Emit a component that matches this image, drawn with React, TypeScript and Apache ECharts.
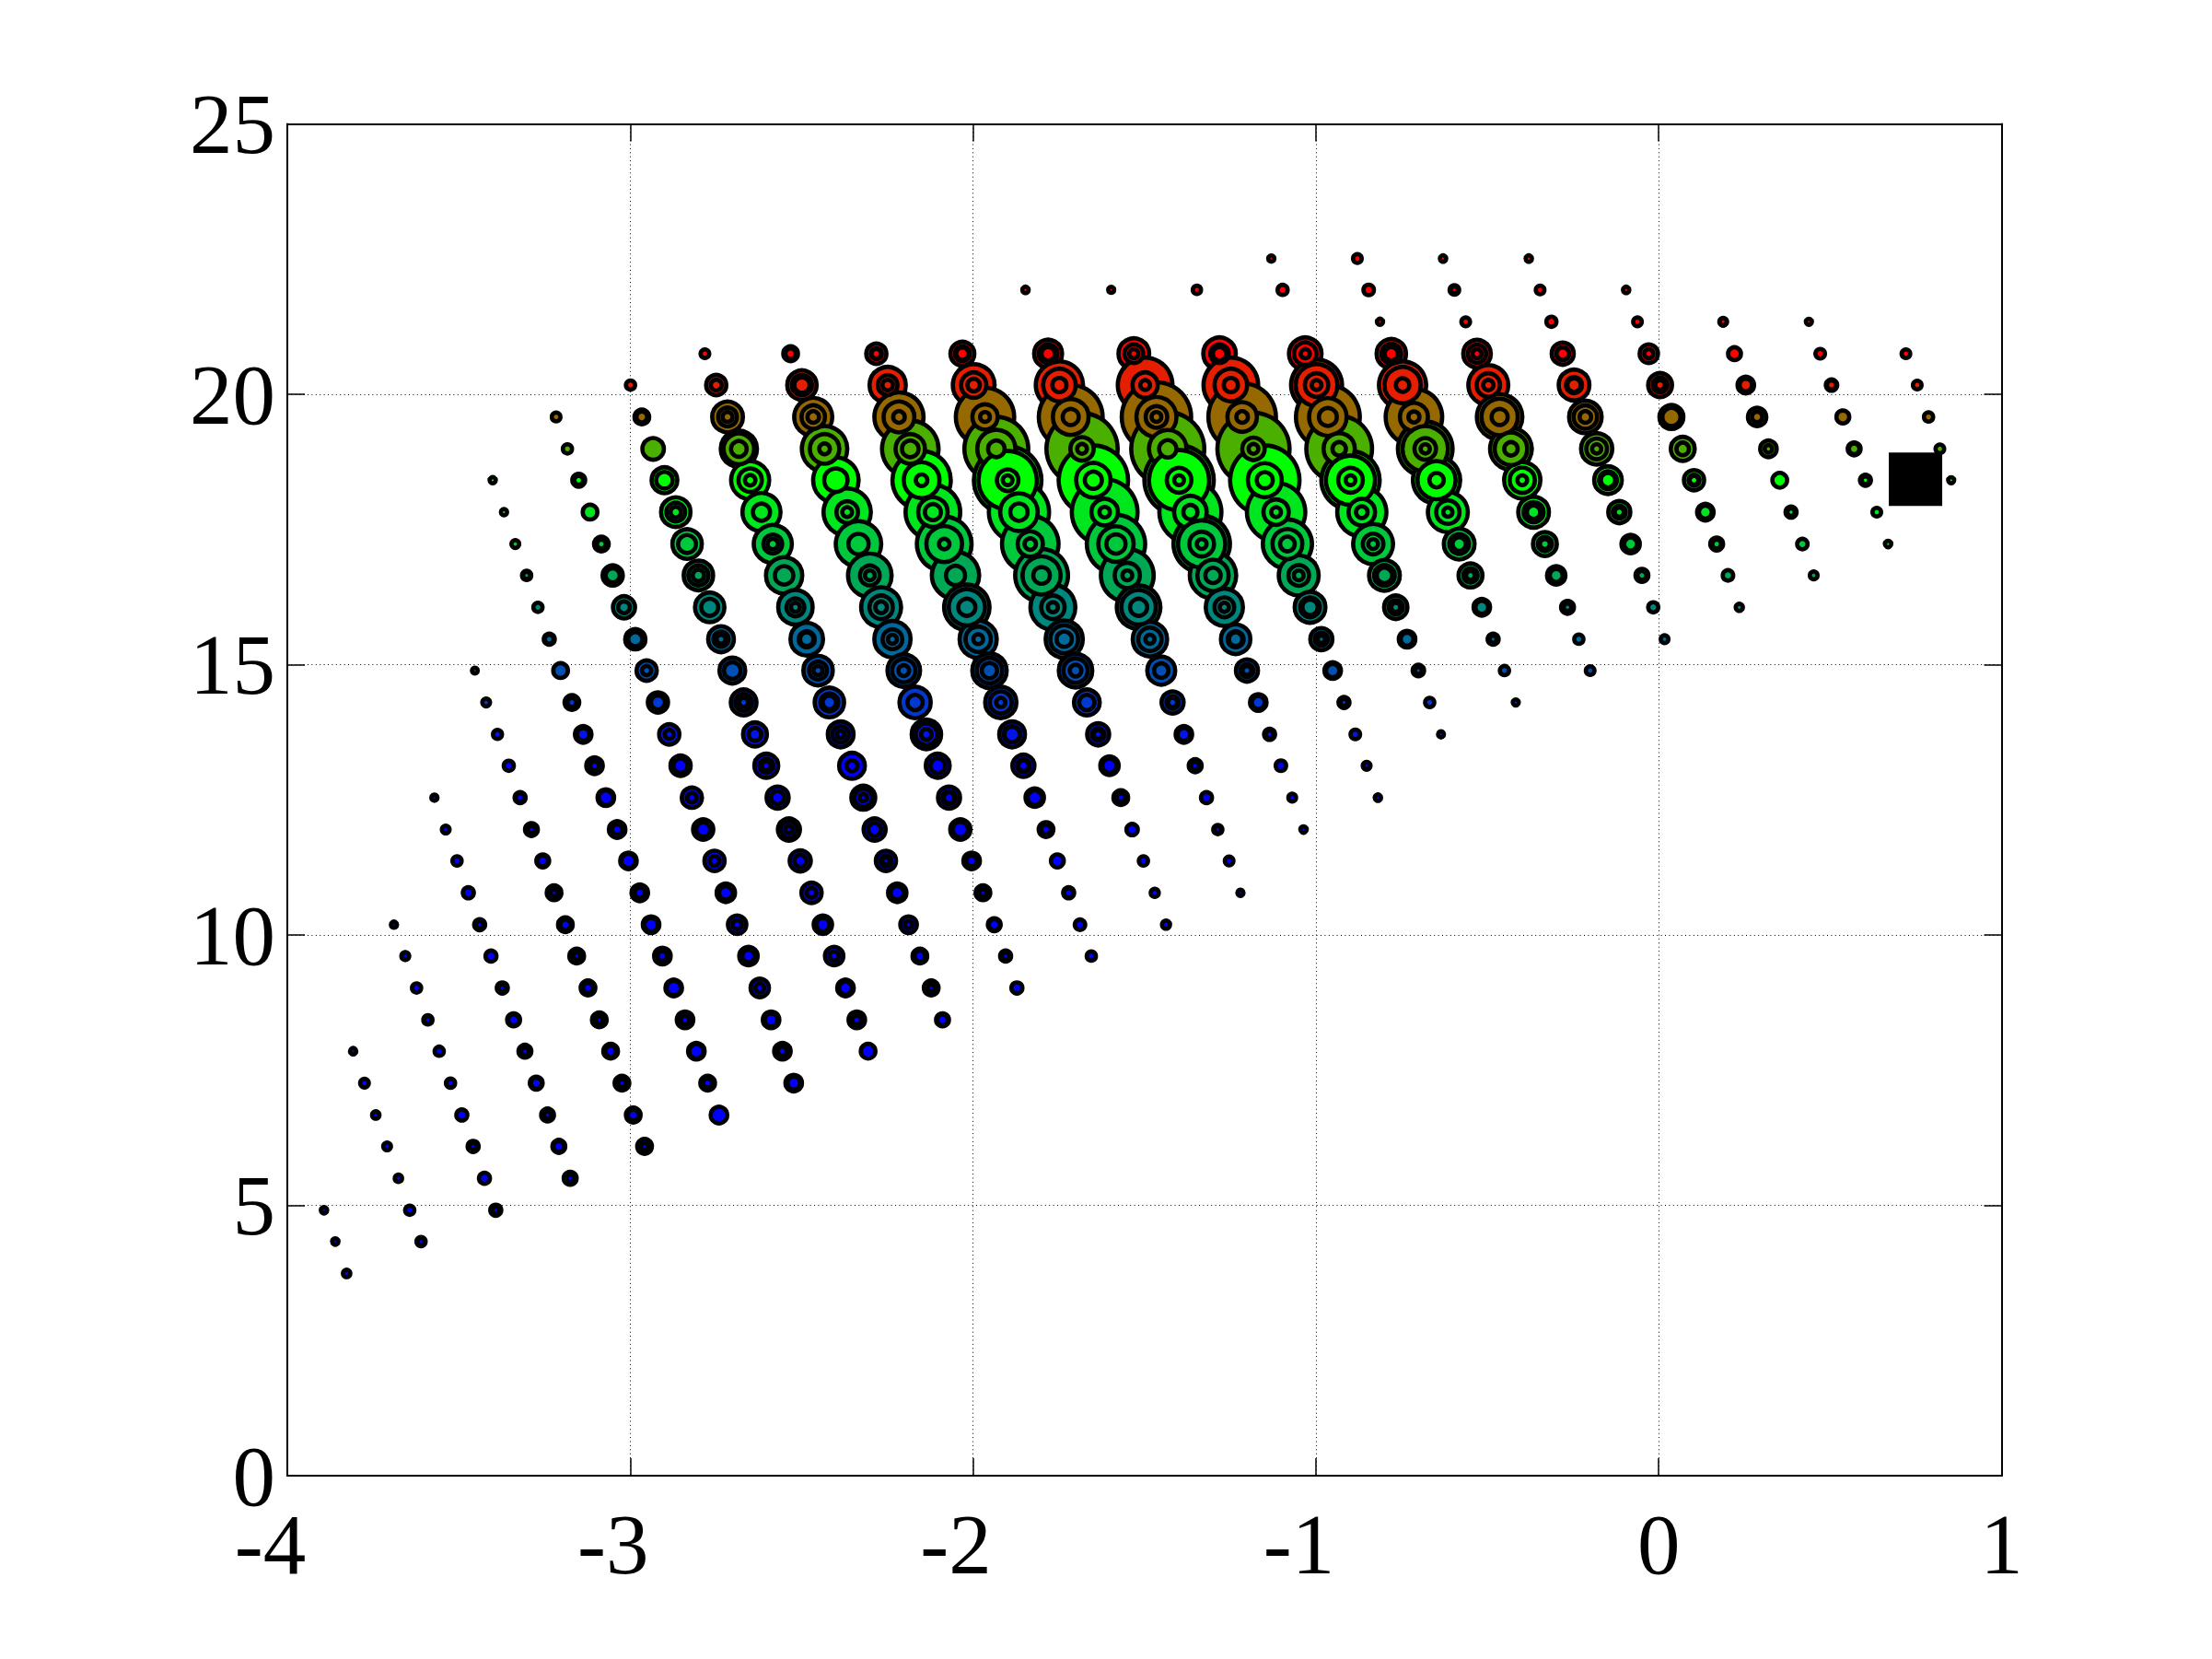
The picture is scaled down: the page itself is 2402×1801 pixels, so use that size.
import React, { useEffect, useRef } from "react";
import * as echarts from "echarts";

const X_TICKS = [-4, -3, -2, -1, 0, 1];
const Y_TICKS = [0, 5, 10, 15, 20, 25];

const ROW_Y = [3.74,4.33,4.91,5.5,6.09,6.67,7.26,7.85,8.43,9.02,9.61,10.19,10.78,11.37,11.95,12.54,13.13,13.71,14.3,14.89,15.47,16.06,16.65,17.23,17.82,18.41,18.99,19.58,20.17,20.75,21.34,21.93,22.51];

const ROW_COLOR = [
  "#0000ff","#0000ff","#0000ff","#0000ff","#0000ff","#0000ff","#0000ff","#0000ff","#0000ff","#0000ff","#0000ff",
  "#0000ff","#0000ff","#0000ff","#0000ff","#0000ff","#0000ff","#0014eb","#0038d0","#0050b4","#00699b","#00877d",
  "#00a855","#00c83c","#00e61e","#00ff00","#4baf00","#966900","#e61e00","#ff0000","#ff0000","#ff0000","#ff0000",
];

const COL_FIRST_ROW = [0,1,2,3,4,5,6,7,8,9,10,11,12,14,15,17,18,19,20,21,22,23,25];

const COL_X = [
  [-3.827,-3.86,-3.893],
  [-3.61,-3.643,-3.676,-3.709,-3.742,-3.775,-3.808],
  [-3.392,-3.425,-3.458,-3.491,-3.524,-3.557,-3.59,-3.623,-3.656,-3.689],
  [-3.175,-3.208,-3.241,-3.274,-3.307,-3.34,-3.373,-3.406,-3.439,-3.472,-3.505,-3.538,-3.571],
  [-2.958,-2.991,-3.024,-3.057,-3.09,-3.123,-3.156,-3.189,-3.222,-3.255,-3.288,-3.321,-3.354,-3.387,-3.42,-3.453],
  [-2.741,-2.774,-2.807,-2.84,-2.873,-2.906,-2.939,-2.972,-3.005,-3.038,-3.071,-3.104,-3.137,-3.17,-3.203,-3.236,-3.269,-3.302,-3.335,-3.368,-3.401],
  [-2.523,-2.556,-2.589,-2.622,-2.655,-2.688,-2.721,-2.754,-2.787,-2.82,-2.853,-2.886,-2.919,-2.952,-2.985,-3.018,-3.051,-3.084,-3.117,-3.15,-3.183,-3.216],
  [-2.306,-2.339,-2.372,-2.405,-2.438,-2.471,-2.504,-2.537,-2.57,-2.603,-2.636,-2.669,-2.702,-2.735,-2.768,-2.801,-2.834,-2.867,-2.9,-2.933,-2.966,-2.999],
  [-2.089,-2.122,-2.155,-2.188,-2.221,-2.254,-2.287,-2.32,-2.353,-2.386,-2.419,-2.452,-2.485,-2.518,-2.551,-2.584,-2.617,-2.65,-2.683,-2.716,-2.749,-2.782],
  [-1.872,-1.905,-1.938,-1.971,-2.004,-2.037,-2.07,-2.103,-2.136,-2.169,-2.202,-2.235,-2.268,-2.301,-2.334,-2.367,-2.4,-2.433,-2.466,-2.499,-2.532],
  [-1.655,-1.688,-1.721,-1.754,-1.787,-1.82,-1.853,-1.886,-1.919,-1.952,-1.985,-2.018,-2.051,-2.084,-2.117,-2.15,-2.183,-2.216,-2.249,-2.282],
  [-1.437,-1.47,-1.503,-1.536,-1.569,-1.602,-1.635,-1.668,-1.701,-1.734,-1.767,-1.8,-1.833,-1.866,-1.899,-1.932,-1.965,-1.998,-2.031],
  [-1.22,-1.253,-1.286,-1.319,-1.352,-1.385,-1.418,-1.451,-1.484,-1.517,-1.55,-1.583,-1.616,-1.649,-1.682,-1.715,-1.748,-1.781,-1.814,-1.847],
  [-1.036,-1.069,-1.102,-1.135,-1.168,-1.201,-1.234,-1.267,-1.3,-1.333,-1.366,-1.399,-1.432,-1.465,-1.498,-1.531,-1.564,-1.597],
  [-0.819,-0.852,-0.885,-0.918,-0.951,-0.984,-1.017,-1.05,-1.083,-1.116,-1.149,-1.182,-1.215,-1.248,-1.281,-1.314,-1.347],
  [-0.635,-0.668,-0.701,-0.734,-0.767,-0.8,-0.833,-0.866,-0.899,-0.932,-0.965,-0.998,-1.031,-1.064,-1.097,-1.13],
  [-0.417,-0.45,-0.483,-0.516,-0.549,-0.582,-0.615,-0.648,-0.681,-0.714,-0.747,-0.78,-0.813,-0.846,-0.879],
  [-0.2,-0.233,-0.266,-0.299,-0.332,-0.365,-0.398,-0.431,-0.464,-0.497,-0.53,-0.563,-0.596,-0.629],
  [0.017,-0.016,-0.049,-0.082,-0.115,-0.148,-0.181,-0.214,-0.247,-0.28,-0.313,-0.346,-0.379],
  [0.235,0.202,0.169,0.136,0.103,0.07,0.037,0.004,-0.029,-0.062,-0.095],
  [0.452,0.419,0.386,0.353,0.32,0.287,0.254,0.221,0.188],
  [0.669,0.636,0.603,0.57,0.537,0.504,0.471,0.438],
  [0.853,0.82,0.787,0.754,0.721],
];

// Ring radii of each point of each column, lowest row first; an empty entry is a row without a point.
const COL_RINGS: number[][][] = [
  [[6.3],[5.8],[5.8]],
  [[7.3,6.2],[7.3],[6.3],[6.5],[6.3],[7],[5.8]],
  [[8.3,6.2],[8.3],[8.3,6.2],[8.3],[7.3,6.7],[7.3],[7.3,6.4],[7.3],[6.5,6.2],[5.7]],
  [[9.3,6.4],[9.3,8.2],[9.3,6.4],[9.3,8.2],[9.3,6.4],[9.3,8.2],[8.3,6.4],[8.3],[8.3,6.4],[8.3],[7.3],[6.5],[5.7]],
  [[10.3,6.2],[10.3,8.2],[10.3,6.4],[10.3,8.2],[10.3,6.2],[10.3,7.7],[10.3,6.2],[10.3,8],[10.3,6],[9.3,8.2],[9.3,6.4],[8.3,7.2],[7.8],[7.2],[6.5],[5.5]],
  [[11.3],[10.3,7.2],[11.3,10.1],[11.3,6.9],[11.3,10.1],[11.3,7.6],[11.3,9.6],[11.3,7.9],[11.3,10.1],[11.3,7.9],[11.3,10.1],[11.3,7.1],[11.3,9.1],[10.3,7.1],[10.3],[8.3,7.1],[7.3],[7.3,6.1],[6.5],[5.7],[5.7]],
  [[11.3,9.3],[11.3,7.3],[11.3,9.3],[12.3,7.1],[12.3,9.1],[12.3,7.2],[12.3,9.6],[13.3,7.6],[13.3,10],[13.3,7.5],[13.3,10],[13.3,7.2],[13.3,10],[13.3,7.3],[13.3,10],[14.3,8.7],[13.3,10],[10.3,7.1],[10.3],[9.3,7.1],[7.3],[7]],
  [[10.3],[11.3,7.1],[11.3,9.3],[12.3,7.3],[12.3,9.6],[13.3,7.6],[13.8,8.8],[14.3,11.4,6.4],[14.3,9.4],[15.3,9.7,7.2],[15.3,9.2],[16.3,11.4,7.2],[16.3,11.3],[16.3,10.5,7.1],[18.3,11.5],[18.3,13.2,8.5],[18.3,12],[18.3,12.5,8],[16.3,11.3],[14],[10.3,8.1],[7.3]],
  [[9.3,8.1],[10.3,6.1],[10.3,8.1],[11.3,6.4],[12.3,9.6],[13.3,8.2,6.3],[14.3,9.3],[15.3,12,6.3],[16.3,8.2],[16.3,11.2,6.3],[18.3,12,9.6],[18.3,12,7.2],[20,11,9.6],[21,12,7.2],[22,12.3],[23,12.5,8],[23,11.6],[23,15,8],[22,18.9,10.8],[19,12.5,7.7],[13.3,8.2],[7]],
  [[8.3],[8.3,6.3],[9.3,8.3],[10.3,6.1],[11.3,8.1],[13.3,10.6],[14.3,9.3,8.1],[15.3,10.3],[18.3,14,8.1],[19.3,10.6],[20,15,8.1],[22,13,7.2],[24,15,8.6],[26,13,7.6],[27,13.3],[28,14,7.6],[27,15],[27,18.3,8.1],[23,15,8.6],[18.3,13.2,10.6],[10.3,8]],
  [[7.3],[8],[8.3,7.3],[9.3],[10.3,7.6],[12.3,10.1],[14.3,9.2,8],[16.3,11.2,10.6],[19.3,14.3,7.3],[21,16.2,10.6],[22.5,16,7.6],[27,22,11.6],[28,12.7],[32,21.7,8],[32,18.3,11],[34,21.7,8.6],[33,18.3,11.3],[29,19,8.6],[22,13,8],[13.3,8.2,7.6]],
  [[6.7],[6.7],[7.3],[8.5],[10.3,7.1],[12.3,10.1],[14.3,9,7.1],[16.3,10.6],[20.5,15.5,8.6],[22.5,17.5,10.6],[26.7,15,7.7],[31,23,11.3],[33,16,8.5],[35,22.7,11.7],[39,34,14,7.6],[37,23,11.3],[34,16,7.6],[25,16,9.1],[15.3,10.3,9.1]],
  [[5.7],[7],[7.3,6.2],[8.3],[9.3,6.7],[11.3,9.3],[14.3,9,7.3],[17.5,10.1],[21,15,7.2],[26,21,11.6],[31,16,7.6],[34,21.5,12.7],[38,16.7,8],[40,21,11.6],[41,15,7.6],[37,21.7,11],[28,20,10],[17.5,12.5,9.6],[],[5.8]],
  [[5.8],[6.5],[8],[8.3,6.7],[11.3,9.3],[14.3,9.3,7.1],[18.3,11,9.6],[22.5,13,7.3],[27.5,19.3,10.6],[33,28,15.7,7.6],[36,20,10],[40,35,15.7,7.6],[42,22.7,11.7],[40,24,14,7.6],[32,16,7.6],[19,12.5,7.3],[],[5.6]],
  [[5.8],[6.5,6.1],[7.5],[8.3,6.1],[11.3,9.6],[14.3,9.3,6.3],[19,13,10.6],[24,13.5,7.6],[29,18.5,10.3],[34,16,7.6],[40,20.7,11],[41.5,14.5,7.6],[39,18.3,8.6],[32,20,10],[20,12.3,9.6],[],[6.8]],
  [[5.6],[7.3],[8.5,6.1],[11.3,9.3],[15,10,7.2],[19,13.5,10.6],[24,13.5,7.6],[29,16.7,8.6],[34,29,15.7,7.6],[38,19.3,9.6],[37,22.7,12],[30,25,15,7.6],[20,14.5,7.3],[],[7.8],[5.7]],
  [[5.6],[7.3],[8.3,6.1],[11.3,9.3],[15.3,10,7.1],[19,13,9.6],[24,15,7.3],[28,23,10.1],[32,27,14,7.3],[33,17.5,8.3],[28,22,9.6],[18.3,13,9.6],[5.7],[8],[7]],
  [[7],[7.3],[9.3,6.4],[12.3,9.3],[15.3,10,7.7],[19,13.2,9.6],[22,16,7.6],[25,20,9.6],[27,22,11],[24,15,7.9],[17.3,12.2,7.3],[7],[7.5,6.1],[5.8]],
  [[6.5],[7.8],[9.3,7.1],[12.3,9.3],[14.3,9.3,7.3],[17.3,12,10.1],[19.3,13.5,7.3],[20,15,8.6],[19,11,9.6],[14.3,9.2,9.1],[7.8],[7],[5.8]],
  [[6.2],[8],[9.3,7.1],[11.3,9.3],[13.3,8.3,7.1],[15.3,9.1],[15.3,12.1],[15.3,10.3,7.6],[12.3,7.2],[7],[5.8]],
  [[6.5],[8],[8.3,6.3],[10.3],[11.3,6.4],[12.3,7.9],[11.3,9.1],[9.3],[6.5,6.1]],
  [[5.8],[7],[8.3,6.3],[9.3,8],[9.3],[8.5,7.3],[7.5],[5.6]],
  [[5.6],[7],[7.3],[7],[7]],
];

const SQUARE_X = [0.749];
const SQUARE_Y = [18.43];

const EDGE = 4.6;
const AXIS_FONT = "'Liberation Serif', serif";
const LABEL_SIZE = 93;

function buildLayers() {
  const layers: any[][] = [[], [], [], []];
  for (let row = ROW_Y.length - 1; row >= 0; row--) {
    COL_RINGS.forEach((rings, c) => {
      const i = row - COL_FIRST_ROW[c];
      if (i < 0 || i >= rings.length) return;
      rings[i].forEach((radius, layer) => {
        layers[layer].push({
          value: [COL_X[c][i], ROW_Y[row], 2 * radius - EDGE],
          itemStyle: { color: ROW_COLOR[row] },
        });
      });
    });
  }
  return layers;
}

export default function App() {
  const ref = useRef<HTMLDivElement>(null);
  useEffect(() => {
    const chart = echarts.init(ref.current!, undefined, { renderer: "svg" });
    const layers = buildLayers();
    const tickLine = { show: true, inside: true, length: 19, lineStyle: { color: "#000", width: 1.5 } };
    const axisLine = { show: true, onZero: false, lineStyle: { color: "#000", width: 2 } };
    const splitLine = { show: true, lineStyle: { color: "#000", width: 1, type: [1, 3.4] as any } };
    chart.setOption({
      animation: false,
      backgroundColor: "#fff",
      grid: { left: 312, top: 134.5, width: 1861.5, height: 1467.5, containLabel: false },
      xAxis: [
        {
          type: "value", min: X_TICKS[0], max: X_TICKS[X_TICKS.length - 1], interval: 1, position: "bottom",
          axisLine, axisTick: tickLine, splitLine,
          axisLabel: {
            margin: 28,
            showMinLabel: true, showMaxLabel: true,
            hideOverlap: false,
            color: "#000", fontFamily: AXIS_FONT, fontSize: LABEL_SIZE,
            formatter: (v: number) => (v < 0 ? `{neg|${v}}` : `{pos|${v}}`),
            rich: {
              neg: { fontFamily: AXIS_FONT, fontSize: LABEL_SIZE, color: "#000", padding: [0, 37, 0, 0] },
              pos: { fontFamily: AXIS_FONT, fontSize: LABEL_SIZE, color: "#000" },
            },
          },
        },
        {
          type: "value", min: X_TICKS[0], max: X_TICKS[X_TICKS.length - 1], interval: 1, position: "top",
          axisLine, axisTick: tickLine, splitLine: { show: false }, axisLabel: { show: false },
        },
      ],
      yAxis: [
        {
          type: "value", min: Y_TICKS[0], max: Y_TICKS[Y_TICKS.length - 1], interval: 5, position: "left",
          axisLine, axisTick: tickLine, splitLine,
          axisLabel: {
            margin: 13, showMinLabel: true, showMaxLabel: true,
            verticalAlignMinLabel: "middle", verticalAlignMaxLabel: "middle", hideOverlap: false,
            color: "#000", fontFamily: AXIS_FONT, fontSize: LABEL_SIZE, padding: [13, 0, 0, 0],
          },
        },
        {
          type: "value", min: Y_TICKS[0], max: Y_TICKS[Y_TICKS.length - 1], interval: 5, position: "right",
          axisLine, axisTick: tickLine, splitLine: { show: false }, axisLabel: { show: false },
        },
      ],
      series: [
        ...layers.map((data) => ({
          type: "scatter",
          data,
          silent: true,
          progressive: 0,
          symbol: "circle",
          symbolSize: (v: number[]) => v[2],
          itemStyle: { opacity: 1, borderColor: "#000", borderWidth: EDGE },
        })),
        {
          type: "scatter",
          silent: true,
          symbol: "rect",
          symbolSize: 58,
          itemStyle: { color: "#000", opacity: 1 },
          data: SQUARE_X.map((x, i) => [x, SQUARE_Y[i]]),
        },
      ],
    });
    return () => chart.dispose();
  }, []);
  return <div ref={ref} style={{ position: "absolute", left: 0, top: 0, width: 2402, height: 1801 }} />;
}
